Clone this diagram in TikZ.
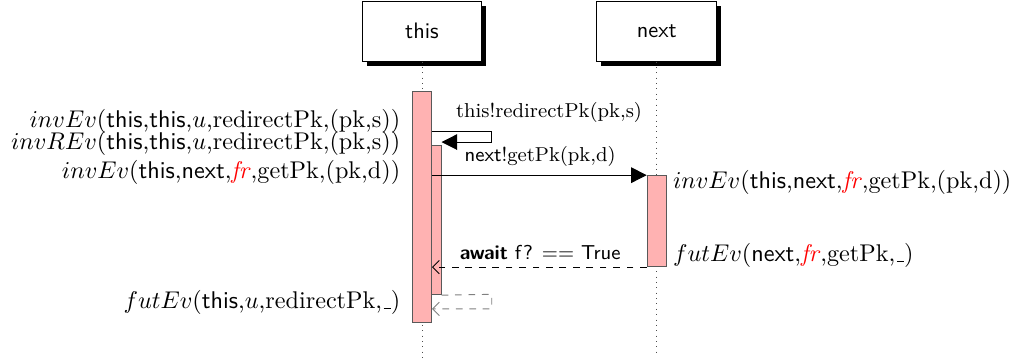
\documentclass[tikz,border=0pt]{standalone}
\usepackage{amsmath}
\usepackage{amssymb}
\usepackage{tikz}
\usetikzlibrary{positioning, arrows, arrows.meta, shadows}
\usetikzlibrary{calc}
\newcommand{\uscore}{\leavevmode\kern.06em\vbox{\hrule width.3em}}
\newcommand{\evlabel}[1]{\scalebox{1.08}{#1}}

\begin{document}
\begin{tikzpicture}[thread/.style={draw, fill=white, minimum width=1.88cm, minimum height=0.94cm, font=\sffamily, drop shadow={fill=black, opacity=1, shadow xshift=0.07cm, shadow yshift=-0.07cm}},
  actbar/.style={draw=black!65, fill=red!30, minimum width=0.3cm, inner sep=0pt, anchor=north},
  lifeline/.style={dotted, black!70},
  call/.style={-{Triangle[length=7pt,width=7pt]}},
  reply/.style={dashed, -{Straight Barb[length=3pt,width=6pt]}},
  msg/.style={font=\small},
  lbl/.style={inner sep=0pt}]
\useasboundingbox (0,0) rectangle (15.95,-5.68);
\node[thread] (this) at (6.625,-0.49) {this};
\node[thread] (next) at (10.31,-0.49) {next};
\coordinate (thisend) at (6.625,-5.68);
\coordinate (nextend) at (10.31,-5.58);
\draw[lifeline] (this.south) -- (thisend);
\draw[lifeline] (next.south) -- (nextend);
\node[actbar, minimum height=2.34cm] (thisin) at (6.775,-2.28) {}; % nested call
\node[actbar, minimum height=3.62cm] (thisout) at (6.625,-1.43) {};
\node[actbar, minimum height=1.43cm] (nextbar) at (10.31,-2.75) {};
\coordinate (selfturn) at (7.72,-2.06);
\coordinate (backturn) at (7.72,-4.62);
\draw[call] (thisout.east |- selfturn) -- (selfturn) |- (thisin.east |- 0,-2.23); % this -> this
\draw[call] (thisout.east |- nextbar.north west) -- (nextbar.north west); % this -> next
\draw[reply] (nextbar.south west) -- (thisout.east |- nextbar.south west); % next -> this
\draw[reply, gray] (thisin.south east) -- (backturn) |- (thisout.east |- 0,-4.85); % this -> this
\node[msg] (selfmsg) at (8.62,-1.76) {this!redirectPk(pk,s)};
\node[msg] (callmsg) at (8.48,-2.46) {\textsf{next}!getPk(pk,d)};
\node[msg] (awaitmsg) at (8.48,-3.97) {\textsf{\textbf{await} f? == True}};
\node[lbl, anchor=east] (inv1) at (6.29,-1.91) {\evlabel{$invEv$(\textsf{this},\textsf{this},$u$,redirectPk,(pk,s))}};
\node[lbl, anchor=east] (invr) at (6.29,-2.25) {\evlabel{$invREv$(\textsf{this},\textsf{this},$u$,redirectPk,(pk,s))}};
\node[lbl, anchor=east] (inv2) at (6.29,-2.71) {\evlabel{$invEv$(\textsf{this},\textsf{next},\textcolor{red}{\textit{fr}},getPk,(pk,d))}};
\node[lbl, anchor=east] (fut1) at (6.29,-4.75) {\evlabel{$futEv$(\textsf{this},$u$,redirectPk,\uscore)}};
\node[lbl, anchor=west] (inv3) at (10.56,-2.87) {\evlabel{$invEv$(\textsf{this},\textsf{next},\textcolor{red}{\textit{fr}},getPk,(pk,d))}};
\node[lbl, anchor=west] (fut2) at (10.56,-4.01) {\evlabel{$futEv$(\textsf{next},\textcolor{red}{\textit{fr}},getPk,\uscore)}};
\end{tikzpicture}
\end{document}
